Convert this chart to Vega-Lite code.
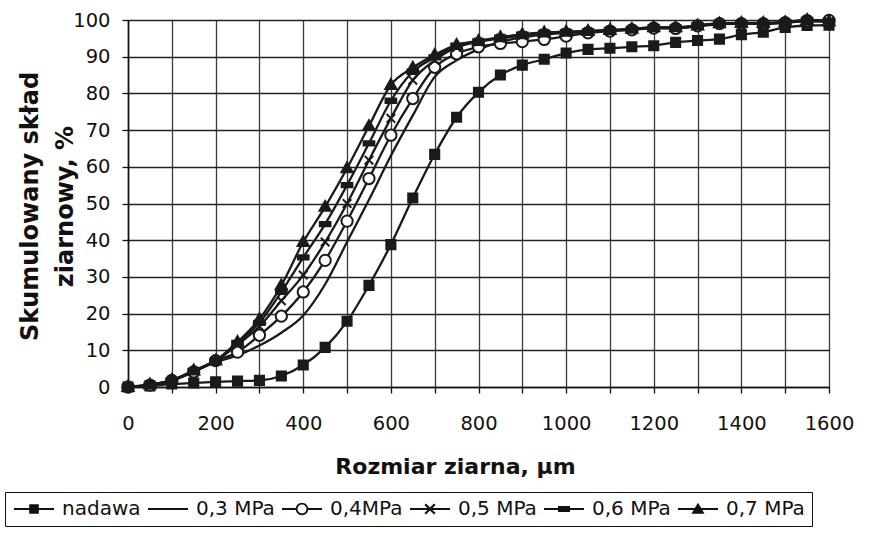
{
  "$schema": "https://vega.github.io/schema/vega-lite/v6.json",
  "autosize": {"type": "none"},
  "padding": {"left": 128, "top": 20, "right": 48, "bottom": 147},
  "width": 701,
  "height": 367,
  "background": "white",
  "config": {
    "view": {"stroke": "#222"},
    "axis": {
      "labelFont": "DejaVu Sans", "labelFontSize": 19.5, "labelColor": "#111",
      "titleFont": "DejaVu Sans", "titleColor": "#111", "titleFontWeight": "bold",
      "domainColor": "#111", "domainWidth": 1.6, "tickColor": "#111", "tickWidth": 1.3,
      "gridWidth": 1.3, "labelFlush": false, "labelOverlap": false, "labelBound": false
    },
    "legend": {"labelFont": "DejaVu Sans"}
  },
  "data": {"values": [
    {"s":"nadawa","x":0,"y":0},{"s":"nadawa","x":50,"y":0.3},{"s":"nadawa","x":100,"y":0.8},{"s":"nadawa","x":150,"y":1.1},{"s":"nadawa","x":200,"y":1.4},{"s":"nadawa","x":250,"y":1.6},{"s":"nadawa","x":300,"y":1.8},{"s":"nadawa","x":350,"y":3.0},{"s":"nadawa","x":400,"y":6.0},{"s":"nadawa","x":450,"y":10.8},{"s":"nadawa","x":500,"y":17.9},{"s":"nadawa","x":550,"y":27.7},{"s":"nadawa","x":600,"y":38.8},{"s":"nadawa","x":650,"y":51.5},{"s":"nadawa","x":700,"y":63.4},{"s":"nadawa","x":750,"y":73.5},{"s":"nadawa","x":800,"y":80.3},{"s":"nadawa","x":850,"y":85},{"s":"nadawa","x":900,"y":87.7},{"s":"nadawa","x":950,"y":89.3},{"s":"nadawa","x":1000,"y":91},{"s":"nadawa","x":1050,"y":92},{"s":"nadawa","x":1100,"y":92.3},{"s":"nadawa","x":1150,"y":92.7},{"s":"nadawa","x":1200,"y":93},{"s":"nadawa","x":1250,"y":93.9},{"s":"nadawa","x":1300,"y":94.4},{"s":"nadawa","x":1350,"y":94.8},{"s":"nadawa","x":1400,"y":96},{"s":"nadawa","x":1450,"y":96.7},{"s":"nadawa","x":1500,"y":98},{"s":"nadawa","x":1550,"y":98.5},{"s":"nadawa","x":1600,"y":98.6},
    {"s":"0,3 MPa","x":0,"y":0},{"s":"0,3 MPa","x":50,"y":0.5},{"s":"0,3 MPa","x":100,"y":1.7},{"s":"0,3 MPa","x":150,"y":4.2},{"s":"0,3 MPa","x":200,"y":6.8},{"s":"0,3 MPa","x":250,"y":8.6},{"s":"0,3 MPa","x":300,"y":11.3},{"s":"0,3 MPa","x":350,"y":14.8},{"s":"0,3 MPa","x":400,"y":19.5},{"s":"0,3 MPa","x":450,"y":28},{"s":"0,3 MPa","x":500,"y":39.5},{"s":"0,3 MPa","x":550,"y":51},{"s":"0,3 MPa","x":600,"y":63},{"s":"0,3 MPa","x":650,"y":74},{"s":"0,3 MPa","x":700,"y":84.5},{"s":"0,3 MPa","x":750,"y":89},{"s":"0,3 MPa","x":800,"y":92},{"s":"0,3 MPa","x":850,"y":94},{"s":"0,3 MPa","x":900,"y":95.3},{"s":"0,3 MPa","x":950,"y":96},{"s":"0,3 MPa","x":1000,"y":96.5},{"s":"0,3 MPa","x":1050,"y":96.8},{"s":"0,3 MPa","x":1100,"y":97.1},{"s":"0,3 MPa","x":1150,"y":97.4},{"s":"0,3 MPa","x":1200,"y":97.8},{"s":"0,3 MPa","x":1250,"y":97.8},{"s":"0,3 MPa","x":1300,"y":98.3},{"s":"0,3 MPa","x":1350,"y":98.8},{"s":"0,3 MPa","x":1400,"y":99},{"s":"0,3 MPa","x":1450,"y":99},{"s":"0,3 MPa","x":1500,"y":99.3},{"s":"0,3 MPa","x":1550,"y":99.6},{"s":"0,3 MPa","x":1600,"y":99.5},
    {"s":"0,4MPa","x":0,"y":0},{"s":"0,4MPa","x":50,"y":0.5},{"s":"0,4MPa","x":100,"y":1.8},{"s":"0,4MPa","x":150,"y":4.1},{"s":"0,4MPa","x":200,"y":7.2},{"s":"0,4MPa","x":250,"y":9.5},{"s":"0,4MPa","x":300,"y":14.1},{"s":"0,4MPa","x":350,"y":19.3},{"s":"0,4MPa","x":400,"y":25.9},{"s":"0,4MPa","x":450,"y":34.5},{"s":"0,4MPa","x":500,"y":45.2},{"s":"0,4MPa","x":550,"y":56.8},{"s":"0,4MPa","x":600,"y":68.6},{"s":"0,4MPa","x":650,"y":78.6},{"s":"0,4MPa","x":700,"y":87.1},{"s":"0,4MPa","x":750,"y":90.8},{"s":"0,4MPa","x":800,"y":92.7},{"s":"0,4MPa","x":850,"y":93.6},{"s":"0,4MPa","x":900,"y":94.1},{"s":"0,4MPa","x":950,"y":94.7},{"s":"0,4MPa","x":1000,"y":95.6},{"s":"0,4MPa","x":1050,"y":96.5},{"s":"0,4MPa","x":1100,"y":97},{"s":"0,4MPa","x":1150,"y":97.3},{"s":"0,4MPa","x":1200,"y":97.8},{"s":"0,4MPa","x":1250,"y":97.7},{"s":"0,4MPa","x":1300,"y":98.4},{"s":"0,4MPa","x":1350,"y":99},{"s":"0,4MPa","x":1400,"y":99},{"s":"0,4MPa","x":1450,"y":99},{"s":"0,4MPa","x":1500,"y":99.3},{"s":"0,4MPa","x":1550,"y":99.8},{"s":"0,4MPa","x":1600,"y":99.9},
    {"s":"0,5 MPa","x":0,"y":0},{"s":"0,5 MPa","x":50,"y":0.6},{"s":"0,5 MPa","x":100,"y":1.8},{"s":"0,5 MPa","x":150,"y":4.3},{"s":"0,5 MPa","x":200,"y":7.1},{"s":"0,5 MPa","x":250,"y":11.5},{"s":"0,5 MPa","x":300,"y":16.5},{"s":"0,5 MPa","x":350,"y":23.5},{"s":"0,5 MPa","x":400,"y":30.5},{"s":"0,5 MPa","x":450,"y":39.5},{"s":"0,5 MPa","x":500,"y":50},{"s":"0,5 MPa","x":550,"y":61.8},{"s":"0,5 MPa","x":600,"y":73.2},{"s":"0,5 MPa","x":650,"y":83.6},{"s":"0,5 MPa","x":700,"y":89},{"s":"0,5 MPa","x":750,"y":92.5},{"s":"0,5 MPa","x":800,"y":94},{"s":"0,5 MPa","x":850,"y":95},{"s":"0,5 MPa","x":900,"y":95.8},{"s":"0,5 MPa","x":950,"y":96.4},{"s":"0,5 MPa","x":1000,"y":96.6},{"s":"0,5 MPa","x":1050,"y":96.8},{"s":"0,5 MPa","x":1100,"y":97.1},{"s":"0,5 MPa","x":1150,"y":97.4},{"s":"0,5 MPa","x":1200,"y":97.9},{"s":"0,5 MPa","x":1250,"y":97.8},{"s":"0,5 MPa","x":1300,"y":98.4},{"s":"0,5 MPa","x":1350,"y":99},{"s":"0,5 MPa","x":1400,"y":99},{"s":"0,5 MPa","x":1450,"y":99},{"s":"0,5 MPa","x":1500,"y":99.3},{"s":"0,5 MPa","x":1550,"y":99.9},{"s":"0,5 MPa","x":1600,"y":99.5},
    {"s":"0,6 MPa","x":0,"y":0},{"s":"0,6 MPa","x":50,"y":0.6},{"s":"0,6 MPa","x":100,"y":1.8},{"s":"0,6 MPa","x":150,"y":4.4},{"s":"0,6 MPa","x":200,"y":7.1},{"s":"0,6 MPa","x":250,"y":12},{"s":"0,6 MPa","x":300,"y":17.5},{"s":"0,6 MPa","x":350,"y":25.9},{"s":"0,6 MPa","x":400,"y":35.3},{"s":"0,6 MPa","x":450,"y":44.4},{"s":"0,6 MPa","x":500,"y":55},{"s":"0,6 MPa","x":550,"y":66.4},{"s":"0,6 MPa","x":600,"y":78},{"s":"0,6 MPa","x":650,"y":85.9},{"s":"0,6 MPa","x":700,"y":89.8},{"s":"0,6 MPa","x":750,"y":93},{"s":"0,6 MPa","x":800,"y":94.2},{"s":"0,6 MPa","x":850,"y":95.2},{"s":"0,6 MPa","x":900,"y":96},{"s":"0,6 MPa","x":950,"y":96.5},{"s":"0,6 MPa","x":1000,"y":96.7},{"s":"0,6 MPa","x":1050,"y":96.9},{"s":"0,6 MPa","x":1100,"y":97.2},{"s":"0,6 MPa","x":1150,"y":97.5},{"s":"0,6 MPa","x":1200,"y":98},{"s":"0,6 MPa","x":1250,"y":97.9},{"s":"0,6 MPa","x":1300,"y":98.5},{"s":"0,6 MPa","x":1350,"y":99.1},{"s":"0,6 MPa","x":1400,"y":99.1},{"s":"0,6 MPa","x":1450,"y":99.1},{"s":"0,6 MPa","x":1500,"y":99.4},{"s":"0,6 MPa","x":1550,"y":100},{"s":"0,6 MPa","x":1600,"y":99.6},
    {"s":"0,7 MPa","x":0,"y":0},{"s":"0,7 MPa","x":50,"y":0.7},{"s":"0,7 MPa","x":100,"y":1.9},{"s":"0,7 MPa","x":150,"y":4.5},{"s":"0,7 MPa","x":200,"y":7.2},{"s":"0,7 MPa","x":250,"y":12.3},{"s":"0,7 MPa","x":300,"y":18.5},{"s":"0,7 MPa","x":350,"y":27.7},{"s":"0,7 MPa","x":400,"y":39.5},{"s":"0,7 MPa","x":450,"y":49.1},{"s":"0,7 MPa","x":500,"y":59.6},{"s":"0,7 MPa","x":550,"y":71.1},{"s":"0,7 MPa","x":600,"y":82.3},{"s":"0,7 MPa","x":650,"y":87},{"s":"0,7 MPa","x":700,"y":90.5},{"s":"0,7 MPa","x":750,"y":93.2},{"s":"0,7 MPa","x":800,"y":94.3},{"s":"0,7 MPa","x":850,"y":95.3},{"s":"0,7 MPa","x":900,"y":96.1},{"s":"0,7 MPa","x":950,"y":96.6},{"s":"0,7 MPa","x":1000,"y":96.8},{"s":"0,7 MPa","x":1050,"y":97},{"s":"0,7 MPa","x":1100,"y":97.3},{"s":"0,7 MPa","x":1150,"y":97.6},{"s":"0,7 MPa","x":1200,"y":98},{"s":"0,7 MPa","x":1250,"y":98},{"s":"0,7 MPa","x":1300,"y":98.5},{"s":"0,7 MPa","x":1350,"y":99.1},{"s":"0,7 MPa","x":1400,"y":99.2},{"s":"0,7 MPa","x":1450,"y":99.2},{"s":"0,7 MPa","x":1500,"y":99.4},{"s":"0,7 MPa","x":1550,"y":100},{"s":"0,7 MPa","x":1600,"y":99.6}
  ]},
  "encoding": {
    "x": {"field": "x", "type": "quantitative",
      "scale": {"domain": [0, 1600], "nice": false, "zero": false},
      "axis": {
        "values": [0,100,200,300,400,500,600,700,800,900,1000,1100,1200,1300,1400,1500,1600],
        "labelExpr": "datum.value % 200 === 0 ? datum.label : ''",
        "format": "d",
        "grid": true, "gridColor": "#3a3a3a",
        "tickSize": 6, "labelPadding": 21,
        "title": "Rozmiar ziarna, µm", "titleFontSize": 22,
        "titleX": 327, "titleY": 79, "titleAlign": "center", "titleBaseline": "middle", "titleAnchor": null
      }},
    "y": {"field": "y", "type": "quantitative",
      "scale": {"domain": [0, 100], "nice": false},
      "axis": {
        "values": [0,10,20,30,40,50,60,70,80,90,100],
        "grid": true, "gridColor": "#222",
        "tickSize": 6, "labelPadding": 12,
        "title": ["Skumulowany skład", "ziarnowy, %"], "titleFontSize": 24, "titleLineHeight": 35,
        "titleX": -98, "titleY": 186, "titleAngle": 270, "titleAlign": "center", "titleBaseline": "middle"
      }}
  },
  "layer": [
    {
      "mark": {"type": "line", "color": "#1a1a1a", "strokeWidth": 2.3, "interpolate": "monotone"},
      "encoding": {"detail": {"field": "s"}}
    },
    {
      "transform": [{"filter": "datum.s !== '0,3 MPa'"}],
      "mark": {"type": "point", "filled": true, "size": 115, "stroke": "#1a1a1a", "strokeWidth": 2, "opacity": 1},
      "encoding": {
        "shape": {"field": "s", "type": "nominal", "legend": null,
          "scale": {
            "domain": ["nadawa", "0,3 MPa", "0,4MPa", "0,5 MPa", "0,6 MPa", "0,7 MPa"],
            "range": [
              "M-0.85,-0.85L0.85,-0.85L0.85,0.85L-0.85,0.85Z",
              "M0,0L0,0",
              "M1.05,0A1.05,1.05,0,1,1,-1.05,0A1.05,1.05,0,1,1,1.05,0Z",
              "M-0.8,-0.8L0.8,0.8M-0.8,0.8L0.8,-0.8",
              "M-1,-0.4L1,-0.4L1,0.4L-1,0.4Z",
              "M0,-1.1L1.05,0.75L-1.05,0.75Z"
            ]}},
        "fill": {"condition": {"test": "datum.s === '0,4MPa'", "value": "white"}, "value": "#1a1a1a"}
      }
    },
    {
      "transform": [{"filter": "datum.x < 0"}],
      "mark": {"type": "point", "filled": true, "size": 256, "color": "#111", "opacity": 1},
      "encoding": {
        "shape": {"field": "s", "type": "nominal",
          "scale": {
            "domain": ["nadawa", "0,3 MPa", "0,4MPa", "0,5 MPa", "0,6 MPa", "0,7 MPa"],
            "range": [
              "M-1,-0.14L4,-0.14L4,0.14L-1,0.14ZM0.9,-0.6L2.1,-0.6L2.1,0.6L0.9,0.6Z",
              "M-1,-0.14L4,-0.14L4,0.14L-1,0.14Z",
              "M-1,-0.14L0.74,-0.14L0.74,0.14L-1,0.14ZM2.26,-0.14L4,-0.14L4,0.14L2.26,0.14ZM2.28,0A0.78,0.78,0,1,1,0.72,0A0.78,0.78,0,1,1,2.28,0ZM2.06,0A0.56,0.56,0,1,0,0.94,0A0.56,0.56,0,1,0,2.06,0Z",
              "M-1,-0.14L4,-0.14L4,0.14L-1,0.14ZM1.0,-0.7L2.2,0.5L2.0,0.7L0.8,-0.5ZM0.8,0.5L2.0,-0.7L2.2,-0.5L1.0,0.7Z",
              "M-1,-0.14L4,-0.14L4,0.14L-1,0.14ZM0.75,-0.38L2.25,-0.38L2.25,0.38L0.75,0.38Z",
              "M-1,-0.14L4,-0.14L4,0.14L-1,0.14ZM1.5,-0.78L2.32,0.58L0.68,0.58Z"
            ]},
          "legend": {
            "orient": "none", "legendX": -123, "legendY": 472,
            "direction": "horizontal", "columns": 6, "columnPadding": 5,
            "title": null, "strokeColor": "#111", "padding": 7,
            "symbolSize": 256, "symbolStrokeWidth": 0, "symbolFillColor": "#111",
            "labelFontSize": 20, "labelColor": "#111", "labelOffset": 30
          }}
      }
    }
  ],
  "resolve": {"scale": {"shape": "independent"}, "legend": {"shape": "independent"}}
}
